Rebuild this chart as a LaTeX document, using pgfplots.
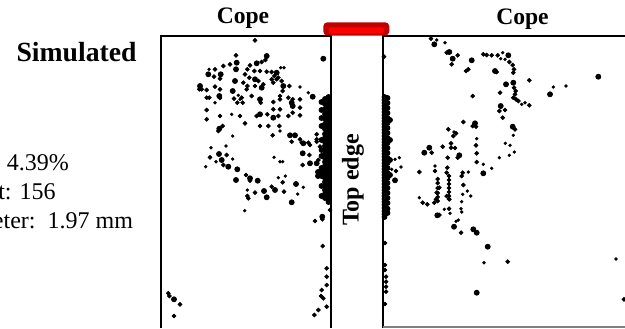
\documentclass[border=0pt]{standalone}
\usepackage{pgfplots}
\pgfplotsset{compat=1.18}
\usepackage{fontspec}
\setmainfont{Liberation Serif}
\definecolor{darkred}{HTML}{C00000}
\definecolor{brightred}{HTML}{FF0000}
\begin{document}
\begin{tikzpicture}
\begin{axis}[
  scale only axis, width=312.5pt, height=164pt,
  xmin=0, xmax=625, ymin=0, ymax=328, y dir=reverse,
  axis lines=none, clip=false,
  every axis plot/.append style={only marks, mark=*, black, mark options={draw=none, fill=black}},
]
\coordinate (SW) at (axis cs:0,328);
\coordinate (NE) at (axis cs:625,0);
% panel frames
\draw[line width=1pt] (axis cs:161,328) -- (axis cs:161,35.5) -- (axis cs:331,35.5) -- (axis cs:331,328);
\draw[line width=1pt] (axis cs:383,328) -- (axis cs:383,35.5) -- (axis cs:625,35.5);
\draw[line width=0.8pt, gray] (axis cs:383,327) -- (axis cs:625,327);
% red bar
\fill[darkred, rounded corners=2pt] (axis cs:323.3,22.3) rectangle (axis cs:389.3,35.5);
\fill[brightred, rounded corners=1pt] (axis cs:328.7,27.3) rectangle (axis cs:384,33.3);
% big dots
\addplot[mark size=1.25pt] table {
x y
323.3 58.7
266.7 56
236.7 62.7
236 69.3
256.7 63.3
276.7 72.7
220.7 74.3
208.3 74.3
255 79.3
235 81
261.7 87.7
283.3 86
200 86
219.3 96
232.7 91
260 99.3
291.7 102.7
292.7 106
312.7 96.7
260 114.3
273.3 117.7
219.3 128.7
290 135.3
295 135.3
303.3 143.3
219 154
221.7 160
228.3 166.7
237.3 169.3
302.7 153.3
310 163.3
316.7 163.3
236 180
250 178.3
257.7 180.7
275 190
296 184
264 191
266.7 197.3
291.7 202.3
322.3 216.7
174 299.3
328.5 97
328.5 100
328.5 103
328.5 106
328.5 109
328.5 112
328.5 115
328.5 118
328.5 121
328.5 124
328.5 127
328.5 130
328.5 133
328.5 136
328.5 139
328.5 142
328.5 145
328.5 148
328.5 151
328.5 154
328.5 157
328.5 160
328.5 163
328.5 166
328.5 169
328.5 172
328.5 175
328.5 178
328.5 181
328.5 184
328.5 187
328.5 190
328.5 193
328.5 196
328.5 199
328.5 202
325 99
325 104
325 109
325 114
325 119
325 124
325 129
325 134
325 138
325 142
325 146
325 150
325 154
325 158
325 162
325 166
325 170
325 174
325 178
325 182
325 186
325 190
325 194
325 198
321.5 102
321.5 110
321.5 118
321.5 126
321.5 140
321.5 150
321.5 156
321.5 168
321.5 172
321.5 176
321.5 186
321.5 196
318 172
318 176
384.5 97
384.5 100
384.5 103
384.5 106
384.5 109
384.5 112
384.5 115
384.5 118
384.5 121
384.5 124
384.5 127
384.5 130
384.5 133
384.5 136
384.5 139
384.5 142
384.5 145
384.5 148
384.5 151
384.5 154
384.5 157
384.5 160
384.5 163
384.5 166
384.5 169
384.5 172
384.5 175
384.5 178
384.5 181
384.5 184
384.5 187
384.5 190
384.5 193
384.5 196
384.5 199
384.5 202
384.5 205
384.5 208
384.5 211
384.5 214
384.5 217
387.5 98
387.5 103
387.5 108
387.5 113
387.5 118
387.5 123
387.5 128
387.5 133
387.5 138
387.5 143
387.5 148
387.5 153
387.5 158
387.5 163
387.5 168
387.5 173
387.5 178
387.5 183
387.5 188
387.5 193
387.5 198
387.5 203
387.5 208.7
387.5 213
390 120
390 140
390 160
390 175
395 180.3
434.3 44.3
449.3 52
452.7 58.7
471.7 60.3
508.3 55.3
495 71
513.3 82.7
506 84.3
550 94.3
500.7 106
475 123.3
512.7 126.7
429.3 147.7
424.3 152.7
459.3 155.3
483.3 173.3
437.3 215.3
454 226.7
473.3 229.3
476.7 232.7
598.3 76.7
487.7 246.7
476.7 292.7
};
% medium dots
\addplot[mark size=0.95pt] table {
x y
255 40.3
236 55.3
265.3 60
230 64.3
223.3 66
215 69.3
250 65.3
261.7 62
247.3 69.3
254.3 71
260 71
266.7 71.7
271.7 72
274.3 76
278.3 77.7
271.7 79.3
214 76.7
220 78.7
245 74.3
249.3 77.7
258.3 81
243.3 82.7
247.3 86
255 86
263.3 84.3
273.3 82.7
276.7 79.3
281.7 81
282.7 91
280 96
289.3 86
199.3 89.3
201.7 89.3
206.7 90
215 86.7
220 89.3
206.7 97.7
209.3 97.7
220 98
234 98.7
241.7 97.7
237.3 102.7
242.7 102.7
246.7 89.3
251.7 96
260.7 102.7
273.3 102
280 99.3
288.3 97.7
292.7 99.3
300 99.3
300 107.7
292.7 112.7
300 115.3
288.3 116
280 109.3
273.3 109.3
256.7 116
267.3 114.3
278.3 116
206.7 110
206.7 119.3
220 116
240 116
245 123.3
260 126
268.3 126
279.3 126
222.7 126
218.3 131
272.7 135.3
300 139.3
301.7 142.7
308.3 142.7
316.7 134.3
316.7 139.3
291.7 141.7
310 145
316.7 141.7
320 146.7
226.7 155
210 157.3
223.3 165
309.3 155
302.7 165
318.3 160
246 175
250 180.7
282.7 182.3
271.7 186.7
255 192.7
247.3 196
248.3 198.3
284 191.7
330 210
315 221
322.3 219.3
322.7 246
326.7 268.3
326.7 276.7
326.7 285
321.7 290
321 296
326.7 306.7
314.3 315
318.3 310
323.3 298.3
168.3 293.3
169.3 296
180 304.3
174 316
384 56.7
396 171
385 243
385 265
385 270
386 276.7
386 281.7
386 286.7
386 291.7
385 304
431 38.7
446.7 52.7
451.7 64.3
457.7 55.3
468.3 69.3
466 71
483.3 54.3
486.7 55
491.7 55.3
497.7 55.3
509.3 62
512.7 65
514 69.3
513.3 72.7
496.7 72
514 87.7
515.7 91
515 94.3
513.3 97.7
516 99.3
518.3 101
529.3 105.3
529.3 80.3
500 92.7
472.7 96
499.3 111
505 110
502.7 117.7
463.3 122
476 126.7
472.7 126
448.3 129.3
456 133.3
453.3 136
515 129.3
476 145.3
431.7 152.7
442.7 146.7
451 143.3
451 147.7
455 148
457.7 157.7
476.7 153.3
476.7 162
447.7 157.7
419.3 172
435 171
447.3 167.7
446.7 172.7
462.7 172.7
461.7 176
463.3 185
437.7 179
437.7 183
437.7 188
437.7 193
437.7 197
437.7 201
449 176
449 180
449 184
449 188
449 192
449 196
449 199
436.7 192.7
439.3 187.7
422.7 202.7
427.3 204.3
434.3 202.7
436 199.3
446.7 196
449.3 199.3
449 208.7
439.3 215
461 232.7
507.7 261.7
624 299.3
};
% small dots
\addplot[mark size=0.62pt] table {
x y
209 69.3
280.7 67.7
284 67.7
300 87
215 102.7
238.3 95.3
240 99.3
308.3 92.7
231.7 114.3
232.7 136
280 131
211 147.7
226 146
232.7 159
216 161.7
205.7 166.7
274 157.3
280 161.7
282.7 161.7
278.3 177.7
285.3 176
303.3 187.3
247.3 190
297.7 194
244.7 210.7
391.7 169.3
395 159.3
399.3 157.7
401 167
436.7 40
445 42.7
502.7 52.7
500.7 58.7
505 59.3
521.7 104.3
525 102.7
553.3 87
566 86
513.3 135.3
476.7 138.7
505.3 143.3
510 145.3
514.3 152
509.3 155.3
499.3 157.7
435 166
483.3 164.3
491.7 168.3
468.3 172
467.3 191
470.7 196
419.3 197.7
461.7 201.7
462.7 194.3
444.3 209.3
450 213.3
461 208.7
461.7 212
458.3 220
456 221.3
484 262.7
616 259
454 132
};
% texts
\node[font=\fontsize{13.85}{16}\selectfont\bfseries, anchor=east, inner sep=0pt] at (axis cs:137,52) {Simulated};
\node[font=\fontsize{11.8}{14}\selectfont\bfseries, inner sep=0pt] at (axis cs:243,18) {Cope};
\node[font=\fontsize{11.8}{14}\selectfont\bfseries, inner sep=0pt] at (axis cs:522.5,19) {Cope};
\node[font=\fontsize{12}{14}\selectfont\bfseries, inner sep=0pt, rotate=90] at (axis cs:353,180) {Top edge};
\node[font=\fontsize{12}{14}\selectfont, anchor=base east, inner sep=0pt] at (axis cs:69.3,170.7) {Porosity:\ \ 4.39\%};
\node[font=\fontsize{12}{14}\selectfont, anchor=base east, inner sep=0pt] at (axis cs:56,199) {Pore count: 156};
\node[font=\fontsize{12}{14}\selectfont, anchor=base east, inner sep=0pt] at (axis cs:133.3,228.3) {Max diameter:\ \ 1.97 mm};
\end{axis}
\pgfresetboundingbox
\useasboundingbox (SW) rectangle (NE);
\end{tikzpicture}
\end{document}
